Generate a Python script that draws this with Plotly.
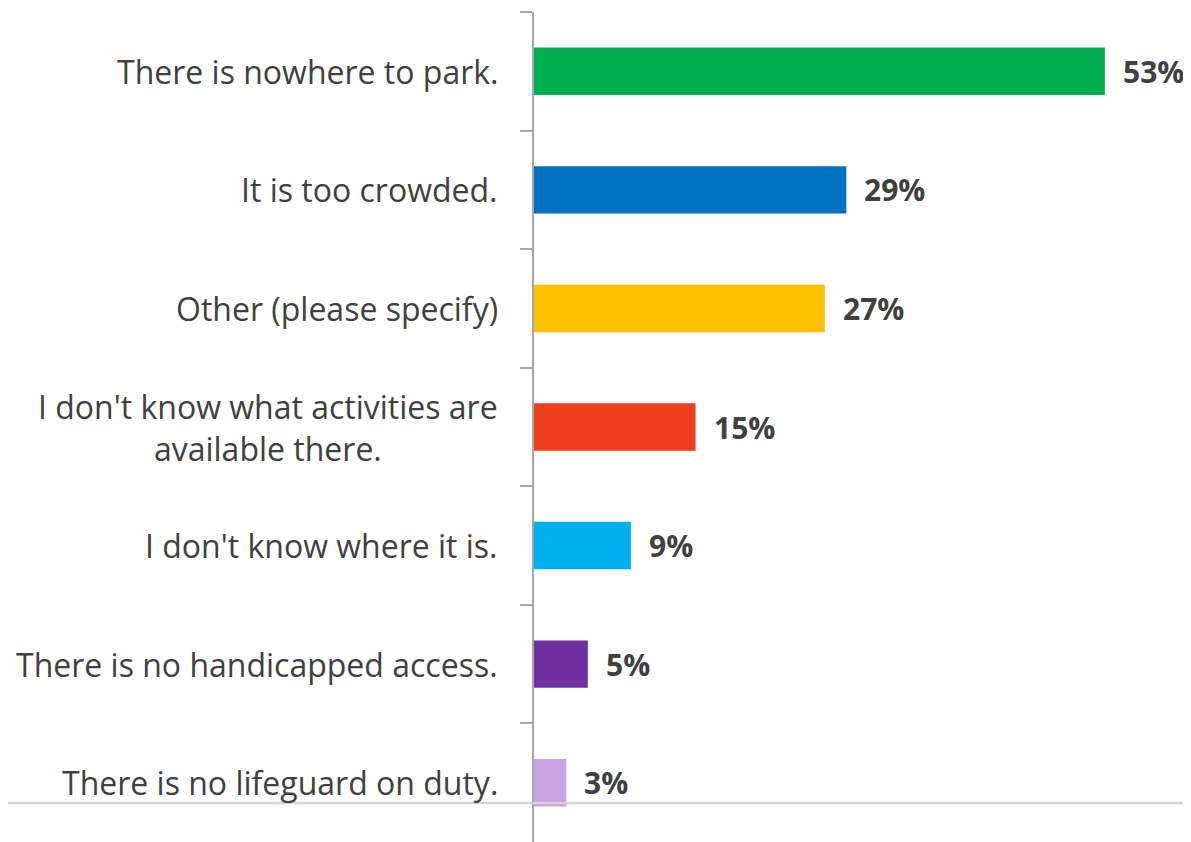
import plotly.graph_objects as go

categories = [
    "There is nowhere to park.",
    "It is too crowded.",
    "Other (please specify)",
    "I don't know what activities are<br>available there.",
    "I don't know where it is.",
    "There is no handicapped access.",
    "There is no lifeguard on duty.",
]
values = [53, 29, 27, 15, 9, 5, 3]
colors = ["#00B050", "#0070C0", "#FFC000", "#EE3E1E", "#00B0F0", "#7030A0", "#C9A3E3"]

FONT = "Open Sans"
TXT = "#404040"

fig = go.Figure()
fig.add_trace(go.Bar(
    x=values, y=categories, orientation="h",
    marker=dict(color=colors, line=dict(width=0)),
    width=0.4, showlegend=False, hoverinfo="skip",
))

for c, v in zip(categories, values):
    fig.add_annotation(
        x=v, y=c, text=f"<b>{v}%</b>", showarrow=False,
        xanchor="left", yanchor="middle", xshift=16,
        font=dict(family=FONT, size=30, color=TXT),
    )
    fig.add_annotation(
        xref="paper", x=0, y=c, text=c, showarrow=False,
        xanchor="right", yanchor="middle", xshift=-34, align="center",
        font=dict(family=FONT, size=32, color=TXT),
    )

fig.add_shape(
    type="line", xref="paper", yref="paper",
    x0=-534 / 657, x1=1.02, y0=0.047, y1=0.047,
    line=dict(color="#D4D4D4", width=2.5), layer="above",
)

fig.update_layout(
    width=1183, height=834,
    margin=dict(l=526, r=0, t=4, b=0),
    paper_bgcolor="white", plot_bgcolor="white",
    font=dict(family=FONT, size=32, color=TXT),
    xaxis=dict(range=[0, 61], visible=False, showgrid=False, zeroline=False),
    yaxis=dict(
        autorange="reversed", tickson="boundaries", ticks="outside",
        ticklen=12, tickwidth=2, tickcolor="#A6A6A6",
        showline=True, linecolor="#A6A6A6", linewidth=2,
        showgrid=False, zeroline=False, showticklabels=False,
    ),
)

fig.write_html("out.html")
